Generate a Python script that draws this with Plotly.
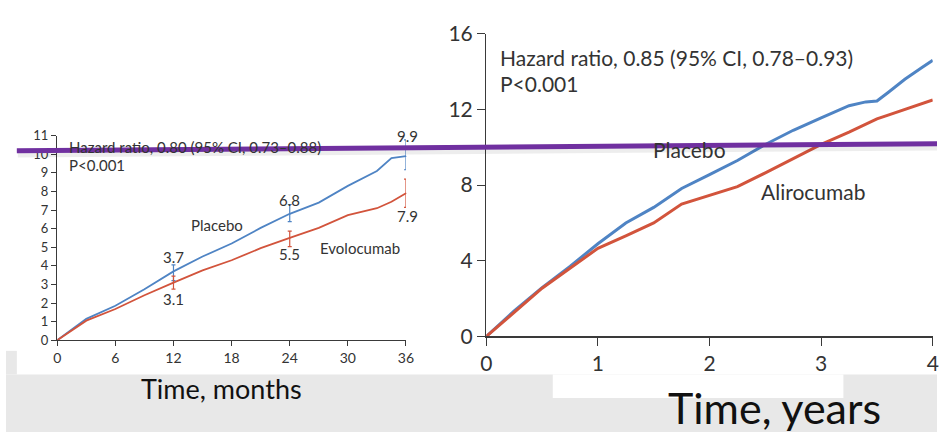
import plotly.graph_objects as go

W, H = 945, 443

# ---------------- Left panel (Evolocumab, months) ----------------
months = [0, 3, 6, 9, 12, 15, 18, 21, 24, 27, 30, 33, 34.5, 36]
placebo_left = [0, 1.15, 1.85, 2.74, 3.7, 4.5, 5.2, 6.04, 6.8, 7.4, 8.3, 9.1, 9.8, 9.9]
evolocumab = [0, 1.05, 1.68, 2.42, 3.1, 3.76, 4.3, 4.95, 5.5, 6.04, 6.73, 7.1, 7.45, 7.9]

ci_months = [12, 24, 36]
placebo_left_est = [3.7, 6.8, 9.9]
placebo_left_lo = [3.2, 6.38, 9.17]
placebo_left_hi = [4.05, 7.3, 10.78]
evolocumab_est = [3.1, 5.5, 7.9]
evolocumab_lo = [2.75, 5.03, 7.14]
evolocumab_hi = [3.45, 5.87, 8.66]

left_xticks = [0, 6, 12, 18, 24, 30, 36]
left_yticks = list(range(0, 12))

# ---------------- Right panel (Alirocumab, years) ----------------
years = [0, 0.25, 0.5, 0.75, 1.0, 1.25, 1.5, 1.75, 2.0, 2.25, 2.5, 2.75, 3.0, 3.25, 3.4, 3.5, 3.6, 3.75, 3.9, 4.0]
placebo_right = [0, 1.35, 2.58, 3.7, 4.9, 6.0, 6.82, 7.82, 8.55, 9.3, 10.15, 10.9, 11.56, 12.2, 12.4, 12.45, 12.9, 13.6, 14.2, 14.6]
alirocumab = [0, 1.3, 2.55, 3.6, 4.66, 5.32, 6.0, 7.0, 7.45, 7.92, 8.65, 9.4, 10.15, 10.8, 11.2, 11.5, 11.7, 12.0, 12.3, 12.5]

right_xticks = [0, 1, 2, 3, 4]
right_yticks = [0, 4, 8, 12, 16]

BLUE = "#4f84c4"
RED = "#d2543c"
AXIS = "#3a3a3a"
TXT = "#333333"
FONT = "Lato, 'Open Sans', sans-serif"


def px_x(p):
    return p / W


def px_y(p):
    return 1 - p / H


fig = go.Figure()

# left curves
fig.add_trace(go.Scatter(x=months, y=placebo_left, mode="lines",
                         line=dict(color=BLUE, width=1.8), xaxis="x", yaxis="y",
                         showlegend=False, hoverinfo="skip", cliponaxis=False))
fig.add_trace(go.Scatter(x=months, y=evolocumab, mode="lines",
                         line=dict(color=RED, width=1.8), xaxis="x", yaxis="y",
                         showlegend=False, hoverinfo="skip", cliponaxis=False))
# CI bars
fig.add_trace(go.Scatter(
    x=ci_months, y=placebo_left_est, mode="markers", marker=dict(size=1, color=BLUE),
    error_y=dict(type="data", symmetric=False,
                 array=[h - e for h, e in zip(placebo_left_hi, placebo_left_est)],
                 arrayminus=[e - l for e, l in zip(placebo_left_est, placebo_left_lo)],
                 color=BLUE, thickness=1.2, width=2),
    xaxis="x", yaxis="y", showlegend=False, hoverinfo="skip", cliponaxis=False))
fig.add_trace(go.Scatter(
    x=ci_months, y=evolocumab_est, mode="markers", marker=dict(size=1, color=RED),
    error_y=dict(type="data", symmetric=False,
                 array=[h - e for h, e in zip(evolocumab_hi, evolocumab_est)],
                 arrayminus=[e - l for e, l in zip(evolocumab_est, evolocumab_lo)],
                 color=RED, thickness=1.2, width=2),
    xaxis="x", yaxis="y", showlegend=False, hoverinfo="skip", cliponaxis=False))

# right curves
fig.add_trace(go.Scatter(x=years, y=placebo_right, mode="lines",
                         line=dict(color=BLUE, width=3), xaxis="x2", yaxis="y2",
                         showlegend=False, hoverinfo="skip", cliponaxis=False))
fig.add_trace(go.Scatter(x=years, y=alirocumab, mode="lines",
                         line=dict(color=RED, width=3), xaxis="x2", yaxis="y2",
                         showlegend=False, hoverinfo="skip", cliponaxis=False))

ax_common = dict(showline=True, linecolor=AXIS, linewidth=1.3, ticks="outside",
                 tickcolor=AXIS, showgrid=False, zeroline=False, fixedrange=True)

fig.update_layout(
    width=W, height=H, margin=dict(l=0, r=0, t=0, b=0),
    paper_bgcolor="white", plot_bgcolor="rgba(0,0,0,0)",
    font=dict(family=FONT, color=TXT),
    xaxis=dict(domain=[px_x(52), px_x(406)], range=[0, 36], tickvals=left_xticks,
               ticklen=5, tickfont=dict(size=14, color=TXT), anchor="y", **ax_common),
    yaxis=dict(domain=[px_y(345.7), px_y(129)], range=[0, 11], tickvals=left_yticks,
               ticklen=5, tickfont=dict(size=13, color=TXT), anchor="x", **ax_common),
    xaxis2=dict(domain=[px_x(487.5), px_x(940.7)], range=[0, 4], tickvals=right_xticks,
                ticklen=8, tickfont=dict(size=21, color=TXT), anchor="y2", **ax_common),
    yaxis2=dict(domain=[px_y(341.7), px_y(21)], range=[0, 16], tickvals=right_yticks,
                ticklen=8, tickfont=dict(size=21, color=TXT), anchor="x2", **ax_common),
)

shapes = []
# grey background band with white patches
shapes.append(dict(type="rect", xref="paper", yref="paper", x0=0, x1=1,
                   y0=0, y1=px_y(382), fillcolor="#e8e8e8", line=dict(width=0), layer="below"))
shapes.append(dict(type="rect", xref="paper", yref="paper", x0=0, x1=px_x(11),
                   y0=px_y(382), y1=px_y(357), fillcolor="#e8e8e8", line=dict(width=0), layer="below"))
shapes.append(dict(type="rect", xref="paper", yref="paper", x0=px_x(555), x1=px_x(850),
                   y0=px_y(407), y1=px_y(382), fillcolor="white", line=dict(width=0), layer="below"))
# purple line with soft shadow
shapes.append(dict(type="line", xref="paper", yref="paper", x0=px_x(12), y0=px_y(149.5),
                   x1=1, y1=px_y(142), line=dict(color="rgba(0,0,0,0.07)", width=5)))
shapes.append(dict(type="line", xref="paper", yref="paper", x0=px_x(11), y0=px_y(145),
                   x1=1, y1=px_y(137.5), line=dict(color="#7030a0", width=5)))

ann = []
# left panel texts
ann.append(dict(xref="paper", yref="paper", x=px_x(62), y=px_y(141), xanchor="left",
                yanchor="middle", text="Hazard ratio, 0.80 (95% CI, 0.73–0.88)",
                showarrow=False, font=dict(size=15, color=TXT)))
ann.append(dict(xref="paper", yref="paper", x=px_x(62), y=px_y(160), xanchor="left",
                yanchor="middle", text="P<0.001", showarrow=False, font=dict(size=15, color=TXT)))
ann.append(dict(xref="x", yref="y", x=16.5, y=6.2, text="Placebo", showarrow=False,
                xanchor="center", yanchor="middle", font=dict(size=15, color=TXT)))
ann.append(dict(xref="x", yref="y", x=31.3, y=4.94, text="Evolocumab", showarrow=False,
                xanchor="center", yanchor="middle", font=dict(size=15, color=TXT)))
for xm, v in zip(ci_months, placebo_left_est):
    ann.append(dict(xref="x", yref="y", x=xm, y=v, yshift=14 if xm < 36 else 20,
                    xshift=0 if xm < 36 else 2, text=f"{v}", showarrow=False,
                    xanchor="center", yanchor="middle", font=dict(size=15, color=TXT)))
for xm, v in zip(ci_months, evolocumab_est):
    ann.append(dict(xref="x", yref="y", x=xm, y=v, yshift=-16 if xm < 36 else -23,
                    xshift=0 if xm < 36 else 2, text=f"{v}", showarrow=False,
                    xanchor="center", yanchor="middle", font=dict(size=15, color=TXT)))
ann.append(dict(xref="paper", yref="paper", x=px_x(219), y=px_y(397), text="Time, months",
                xanchor="center", yanchor="middle", showarrow=False,
                font=dict(size=27, color="#111111")))

# right panel texts
ann.append(dict(xref="paper", yref="paper", x=px_x(499), y=px_y(46.5), xanchor="left",
                yanchor="middle", text="Hazard ratio, 0.85 (95% CI, 0.78–0.93)",
                showarrow=False, font=dict(size=21, color=TXT)))
ann.append(dict(xref="paper", yref="paper", x=px_x(499), y=px_y(73.5), xanchor="left",
                yanchor="middle", text="P<0.001", showarrow=False, font=dict(size=21, color=TXT)))
ann.append(dict(xref="x2", yref="y2", x=1.82, y=9.9, text="Placebo", showarrow=False,
                xanchor="center", yanchor="middle", font=dict(size=21, color=TXT)))
ann.append(dict(xref="x2", yref="y2", x=2.93, y=7.67, text="Alirocumab", showarrow=False,
                xanchor="center", yanchor="middle", font=dict(size=21, color=TXT)))
ann.append(dict(xref="paper", yref="paper", x=px_x(780), y=px_y(417), text="Time, years",
                xanchor="center", yanchor="middle", showarrow=False,
                font=dict(size=43, color="#111111")))

fig.update_layout(shapes=shapes, annotations=ann)
fig.write_html("out.html", config={"displayModeBar": False, "staticPlot": True},
               post_script="document.body.style.margin='0';document.body.style.overflow='hidden';")
